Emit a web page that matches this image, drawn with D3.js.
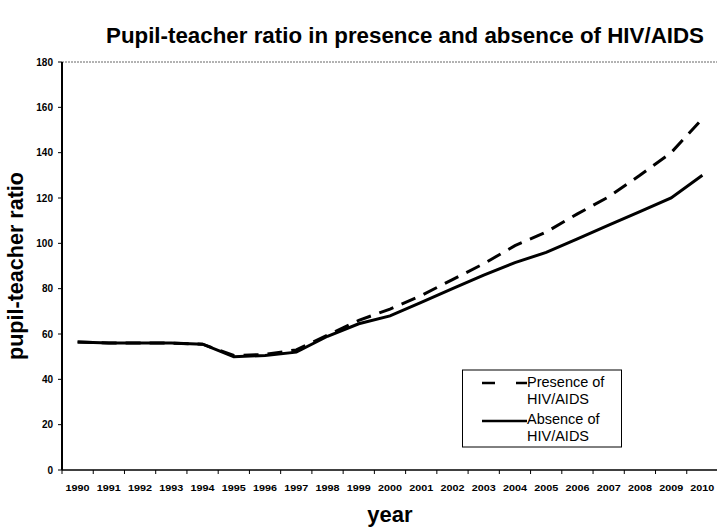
<!DOCTYPE html>
<html><head><meta charset="utf-8">
<script src="https://cdn.jsdelivr.net/npm/d3@7"></script>
<style>body{margin:0;background:#fff}svg{display:block}text{font-family:"Liberation Sans",Arial,sans-serif}</style>
</head><body>
<svg id="c" width="717" height="529"></svg>
<script>
const years = [1990,1991,1992,1993,1994,1995,1996,1997,1998,1999,2000,2001,2002,2003,2004,2005,2006,2007,2008,2009,2010];
const presence = [56.5,56,56,56,55.5,50.5,51,53,59.5,66,71,77,84,91,99,105,113,120.5,130,140,155];
const absence  = [56.5,56,56,56,55.5,50,50.5,52,59,64.5,68,74,80,86,91.5,96,102,108,114,120,130];
const yTicks = [0,20,40,60,80,100,120,140,160,180];
const seriesNames = ["Presence of HIV/AIDS","Absence of HIV/AIDS"];

const svg = d3.select("#c");
const L=62, R=718, T=62, B=470;
const x = d3.scaleBand().domain(years).range([L,R]);
const y = d3.scaleLinear().domain([0,180]).range([B,T]);
const cx = d => x(d)+x.bandwidth()/2;

// title
svg.append("text").attr("x",405).attr("y",43).attr("text-anchor","middle")
  .attr("font-size",22).attr("font-weight","bold").attr("textLength",598).attr("lengthAdjust","spacingAndGlyphs")
  .text("Pupil-teacher ratio in presence and absence of HIV/AIDS");

// top border (faint dotted)
svg.append("line").attr("x1",L).attr("x2",R).attr("y1",T).attr("y2",T)
  .attr("stroke","#666").attr("stroke-width",1).attr("stroke-dasharray","2,1");

// y axis
const ya = svg.append("g");
ya.append("line").attr("x1",L).attr("x2",L).attr("y1",T).attr("y2",B).attr("stroke","#000").attr("stroke-width",2);
yTicks.forEach(t=>{
  ya.append("line").attr("x1",L-4).attr("x2",L).attr("y1",y(t)).attr("y2",y(t)).attr("stroke","#000").attr("stroke-width",1);
  ya.append("text").attr("x",L-9).attr("y",y(t)+3.5).attr("text-anchor","end")
    .attr("font-size",10).attr("font-weight","bold").text(t);
});

// x axis
const xa = svg.append("g");
xa.append("line").attr("x1",L).attr("x2",R).attr("y1",B).attr("y2",B).attr("stroke","#000").attr("stroke-width",1.5);
years.forEach((yr,i)=>{
  xa.append("line").attr("x1",x(yr)+x.bandwidth()).attr("x2",x(yr)+x.bandwidth()).attr("y1",B).attr("y2",B+4).attr("stroke","#000");
  xa.append("text").attr("x",cx(yr)).attr("y",B+21).attr("text-anchor","middle")
    .attr("font-size",9.5).attr("font-weight","bold").attr("textLength",24).attr("lengthAdjust","spacingAndGlyphs").text(yr);
});
xa.append("line").attr("x1",L).attr("x2",L).attr("y1",B).attr("y2",B+4).attr("stroke","#000");

// axis titles
svg.append("text").attr("x",390).attr("y",522).attr("text-anchor","middle")
  .attr("font-size",22).attr("font-weight","bold").text("year");
svg.append("text").attr("transform","translate(23,266) rotate(-90)").attr("text-anchor","middle")
  .attr("font-size",22).attr("font-weight","bold").attr("textLength",188).attr("lengthAdjust","spacingAndGlyphs")
  .text("pupil-teacher ratio");

// lines
const line = d3.line().x((d,i)=>cx(years[i])).y(d=>y(d));
svg.append("path").datum(absence).attr("d",line).attr("fill","none").attr("stroke","#000").attr("stroke-width",3);
svg.append("path").datum(presence).attr("d",line).attr("fill","none").attr("stroke","#000").attr("stroke-width",3)
  .attr("stroke-dasharray","15,9");

// legend
const lg = svg.append("g");
lg.append("rect").attr("x",462.5).attr("y",370).attr("width",159).attr("height",77)
  .attr("fill","#fff").attr("stroke","#000").attr("stroke-width",1);
lg.append("line").attr("x1",482).attr("x2",527).attr("y1",383).attr("y2",383).attr("stroke","#000").attr("stroke-width",2.5).attr("stroke-dasharray","13,21,11");
lg.append("line").attr("x1",482).attr("x2",527).attr("y1",421).attr("y2",421).attr("stroke","#000").attr("stroke-width",2.5);
[[seriesNames[0],387],[seriesNames[1],424]].forEach(([n,yy])=>{
  const parts=n.split(" HIV");
  const t=lg.append("text").attr("font-size",14.5);
  t.append("tspan").attr("x",527).attr("y",yy).text(parts[0]);
  t.append("tspan").attr("x",527).attr("y",yy+16.5).text("HIV"+parts[1]);
});
</script>
</body></html>
